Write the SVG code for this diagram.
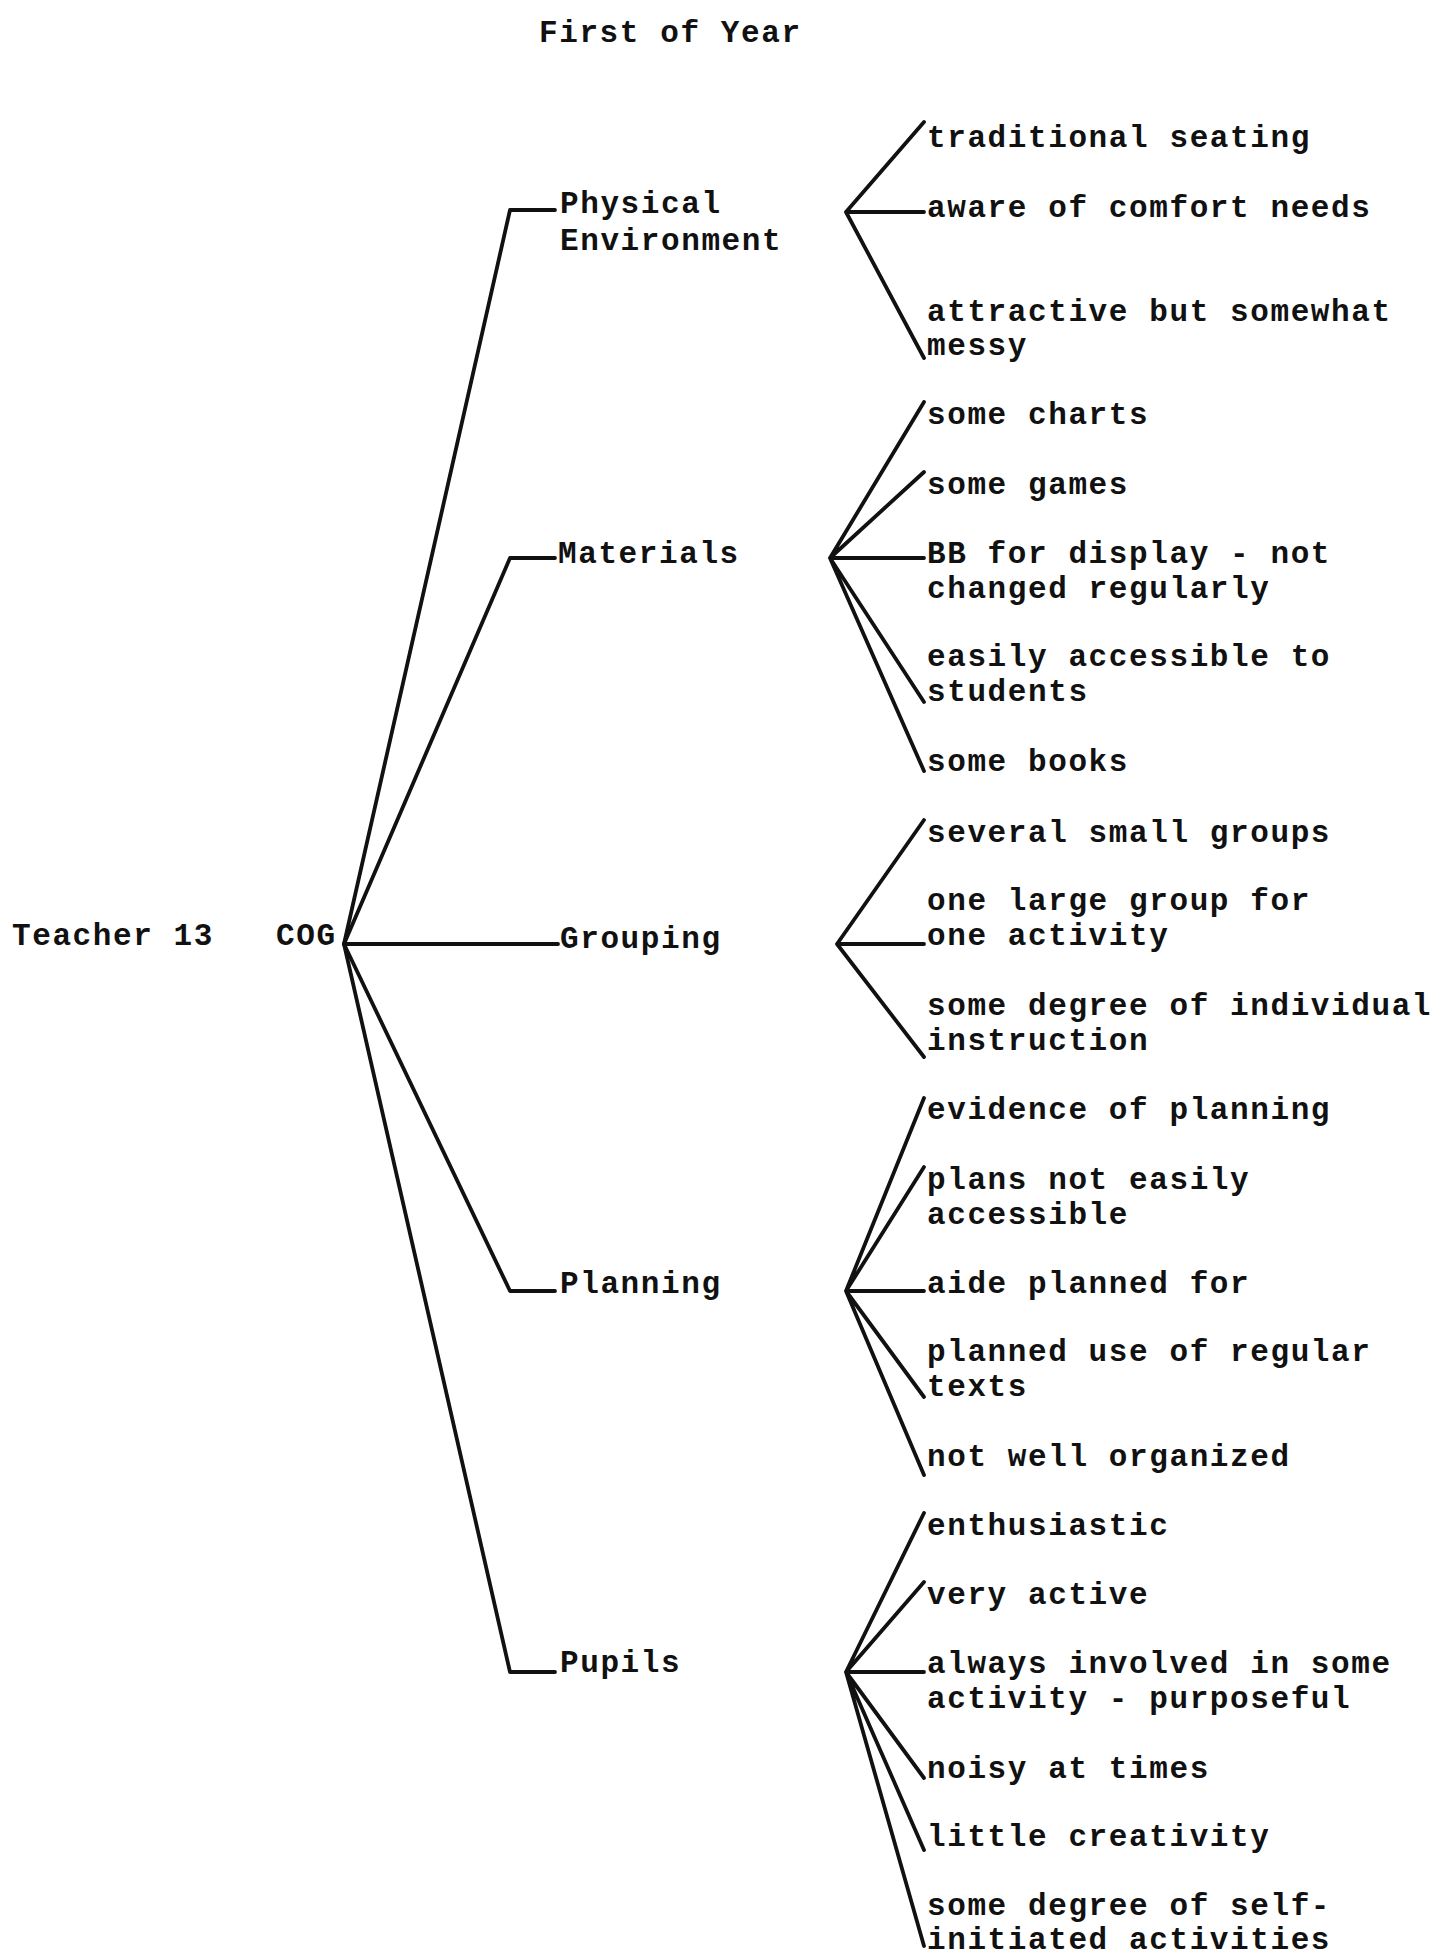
<svg xmlns="http://www.w3.org/2000/svg" width="1441" height="1957" viewBox="0 0 1441 1957">
<style>
text{font-family:"Liberation Mono","DejaVu Sans Mono",monospace;font-weight:bold;font-size:31px;letter-spacing:1.6px;fill:#111}
.c{stroke:#111;stroke-width:3.8;fill:none;stroke-linecap:round;stroke-linejoin:round}
</style>
<rect width="1441" height="1957" fill="#fff"/>
<g id="title"><text x="539" y="42">First of Year</text></g>
<g id="connectors" class="c">
<path d="M344 944 L510 210 L555 210"/>
<path d="M344 944 L510 558 L555 558"/>
<path d="M344 944 L558 944"/>
<path d="M344 944 L510 1291 L555 1291"/>
<path d="M344 944 L510 1672 L555 1672"/>
<path d="M924 122 L846 212 L924 212 M846 212 L924 358"/>
<path d="M924 402 L830 558 L924 472 M830 558 L924 558 M830 558 L924 702 M830 558 L924 771"/>
<path d="M924 820 L837 944 L924 944 M837 944 L924 1057"/>
<path d="M924 1098 L846 1291 L924 1167 M846 1291 L924 1291 M846 1291 L924 1397 M846 1291 L924 1475"/>
<path d="M924 1513 L846 1672 L924 1582 M846 1672 L924 1672 M846 1672 L924 1778 M846 1672 L924 1850 M846 1672 L924 1946"/>
</g>
<g id="teacher"><text x="12" y="945">Teacher 13</text></g>
<g id="cog"><text x="276" y="945">COG</text></g>
<g id="physical"><text x="560" y="213">Physical</text><text x="560" y="250">Environment</text></g>
<g id="materials"><text x="558" y="563">Materials</text></g>
<g id="grouping"><text x="560" y="948">Grouping</text></g>
<g id="planning"><text x="560" y="1293">Planning</text></g>
<g id="pupils"><text x="560" y="1672">Pupils</text></g>
<g id="pe-items">
<text x="927" y="147">traditional seating</text>
<text x="927" y="217">aware of comfort needs</text>
<text x="927" y="321">attractive but somewhat</text>
<text x="927" y="355">messy</text>
</g>
<g id="mat-items">
<text x="927" y="424">some charts</text>
<text x="927" y="494">some games</text>
<text x="927" y="563">BB for display - not</text>
<text x="927" y="598">changed regularly</text>
<text x="927" y="666">easily accessible to</text>
<text x="927" y="701">students</text>
<text x="927" y="771">some books</text>
</g>
<g id="grp-items">
<text x="927" y="842">several small groups</text>
<text x="927" y="910">one large group for</text>
<text x="927" y="945">one activity</text>
<text x="927" y="1015">some degree of individual</text>
<text x="927" y="1050">instruction</text>
</g>
<g id="plan-items">
<text x="927" y="1119">evidence of planning</text>
<text x="927" y="1189">plans not easily</text>
<text x="927" y="1224">accessible</text>
<text x="927" y="1293">aide planned for</text>
<text x="927" y="1361">planned use of regular</text>
<text x="927" y="1396">texts</text>
<text x="927" y="1466">not well organized</text>
</g>
<g id="pup-items">
<text x="927" y="1535">enthusiastic</text>
<text x="927" y="1604">very active</text>
<text x="927" y="1673">always involved in some</text>
<text x="927" y="1708">activity - purposeful</text>
<text x="927" y="1778">noisy at times</text>
<text x="927" y="1846">little creativity</text>
<text x="927" y="1915">some degree of self-</text>
<text x="927" y="1949">initiated activities</text>
</g>
</svg>
